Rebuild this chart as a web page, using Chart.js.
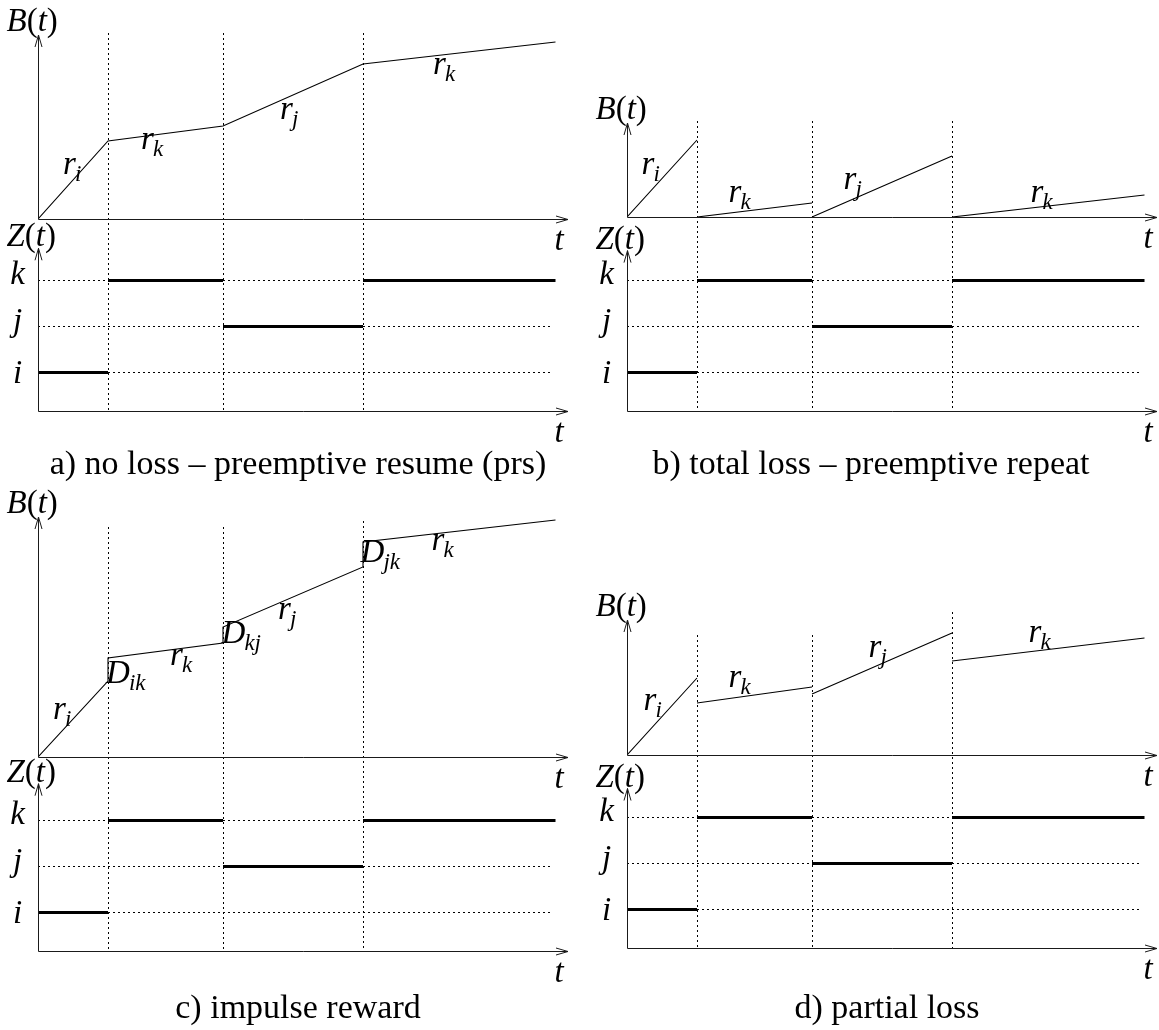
<!DOCTYPE html>
<html lang="en">
<head>
<meta charset="UTF-8">
<title>Accumulated reward under preemption</title>
<script src="https://cdn.jsdelivr.net/npm/chart.js@4"></script>
<style>
  body { margin: 0; background: #fff; }
  .figure { position: relative; width: 1159px; height: 1030px; }
  .figure canvas { position: absolute; }
</style>
</head>
<body>
<div class="figure">
  <canvas id="panelA" width="580" height="485" style="left:0;top:0"></canvas>
  <canvas id="panelB" width="579" height="485" style="left:580px;top:0"></canvas>
  <canvas id="panelC" width="580" height="545" style="left:0;top:485px"></canvas>
  <canvas id="panelD" width="579" height="545" style="left:580px;top:485px"></canvas>
</div>
<script>
// switching instants of Z(t) and the state held in between
const switchTimes = [0, 1.4, 3.7, 6.5, 10.35];
const stateSeq = ['i', 'k', 'j', 'k'];

// states on the Z(t) axis
const stateNames = ['i', 'j', 'k'];
const stateLevels = [1, 2, 3];

// B(t) at the start and at the end of every sojourn
const noLossStart = [0, 3.9, 4.65, 7.75];
const noLossEnd = [3.9, 4.65, 7.75, 8.85];
const totalLossStart = [0, 0, 0, 0];
const totalLossEnd = [3.85, 0.7, 3.05, 1.1];
const impulseStart = [0, 4.95, 6.5, 10.75];
const impulseEnd = [3.8, 5.7, 9.5, 11.85];
const partialStart = [0, 2.6, 3.05, 4.7];
const partialEnd = [3.85, 3.4, 6.1, 5.85];

// how high the dotted switching guides reach (B units)
const guideTopA = [9.3, 9.3, 9.3];
const guideTopB = [4.8, 4.8, 4.8];
const guideTopC = [11.5, 11.5, 11.8];
const guideTopD = [6.0, 6.0, 7.15];

// rate / impulse annotations: symbol, subscript, t, B
const notesA = [['r', 'i', 0.63, 2.6], ['r', 'k', 2.19, 3.85], ['r', 'j', 4.97, 5.35], ['r', 'k', 8.03, 7.6]];
const notesB = [['r', 'i', 0.42, 2.5], ['r', 'k', 2.16, 1.1], ['r', 'j', 4.46, 1.75], ['r', 'k', 8.2, 1.1]];
const notesC = [['r', 'i', 0.43, 2.25], ['D', 'ik', 1.6, 4.25], ['r', 'k', 2.77, 4.95], ['D', 'kj', 3.91, 6.25],
                ['r', 'j', 4.93, 7.25], ['D', 'jk', 6.69, 10.3], ['r', 'k', 8.0, 10.7]];
const notesD = [['r', 'i', 0.46, 2.6], ['r', 'k', 2.16, 3.75], ['r', 'j', 4.96, 5.25], ['r', 'k', 8.16, 6.0]];

const T_MAX = 10.6;      // where the time axis arrow ends
const GUIDE_END = 10.3;  // end of the dotted state levels
const Z_MIN = 1 - 38.5 / 46;

const SERIF = '"Liberation Serif", "Times New Roman", serif';
const MATH = 33, SUB = 23;

function fontFor(ch, size) {
    return (/[A-Za-z]/.test(ch) ? 'italic ' : '') + size + 'px ' + SERIF;
}
function runWidth(ctx, str, size) {
    let w = 0;
    for (const ch of str) { ctx.font = fontFor(ch, size); w += ctx.measureText(ch).width; }
    return w;
}
function drawRun(ctx, str, x, y, size) {
    for (const ch of str) {
        ctx.font = fontFor(ch, size);
        ctx.fillText(ch, x, y);
        x += ctx.measureText(ch).width;
    }
    return x;
}
// symbol with subscript, centred on the main glyph
function drawSymbol(ctx, main, sub, cx, cy) {
    const w = runWidth(ctx, main, MATH);
    const base = cy + (/[A-Z]/.test(main) ? 11 : 7);
    const end = drawRun(ctx, main, cx - w / 2, base, MATH);
    if (sub) drawRun(ctx, sub, end - 1, base + 7, SUB);
}
function strokeLine(ctx, x1, y1, x2, y2) {
    ctx.beginPath(); ctx.moveTo(x1, y1); ctx.lineTo(x2, y2); ctx.stroke();
}
// open arrow head, tip at (x, y) pointing along (dx, dy)
function arrowHead(ctx, x, y, dx, dy) {
    const len = 12, half = 3.5;
    const bx = x - dx * len, by = y - dy * len;
    ctx.beginPath();
    ctx.moveTo(bx - dy * half, by + dx * half);
    ctx.lineTo(x, y);
    ctx.lineTo(bx + dy * half, by - dx * half);
    ctx.stroke();
}

const levelBaseline = { k: 3, j: 4, i: 10 };

const figurePlugin = {
    id: 'figure',
    beforeDatasetsDraw(chart, args, o) {
        const { ctx } = chart;
        const { x: xs, yB, yZ } = chart.scales;
        ctx.save();
        ctx.strokeStyle = '#000';
        ctx.lineWidth = 1;
        ctx.setLineDash([2, 3]);
        switchTimes.slice(1, -1).forEach((t, i) => {
            const px = Math.round(xs.getPixelForValue(t)) + 0.5;
            strokeLine(ctx, px, yB.getPixelForValue(o.guideTop[i]), px, yZ.getPixelForValue(Z_MIN));
        });
        ctx.restore();
    },
    afterDraw(chart, args, o) {
        const { ctx, chartArea: area } = chart;
        const { x: xs, yB, yZ } = chart.scales;
        const x0 = Math.round(xs.getPixelForValue(0)) + 0.5;
        const bZero = Math.round(yB.getPixelForValue(0)) + 0.5;
        const zZero = Math.round(yZ.getPixelForValue(Z_MIN)) + 0.5;
        const bTip = yB.getPixelForValue(o.bArrow);
        const zTip = yZ.getPixelForValue(o.zArrow);
        const right = area.right;

        ctx.save();
        ctx.strokeStyle = '#1a1a1a';
        ctx.lineWidth = 1;
        strokeLine(ctx, x0, bZero, x0, bTip); arrowHead(ctx, x0, bTip, 0, -1);
        strokeLine(ctx, x0, bZero, right, bZero); arrowHead(ctx, right, bZero, 1, 0);
        strokeLine(ctx, x0, zZero, x0, zTip); arrowHead(ctx, x0, zTip, 0, -1);
        strokeLine(ctx, x0, zZero, right, zZero); arrowHead(ctx, right, zZero, 1, 0);

        ctx.fillStyle = '#000';
        ctx.textBaseline = 'alphabetic';
        ctx.textAlign = 'left';
        drawRun(ctx, 'B(t)', x0 - 32, bTip - 4, MATH);
        drawRun(ctx, 'Z(t)', x0 - 32, zTip - 2, MATH);
        const tw = runWidth(ctx, 't', MATH);
        drawRun(ctx, 't', right - 9 - tw / 2, bZero + 30, MATH);
        drawRun(ctx, 't', right - 9 - tw / 2, zZero + 30, MATH);

        stateNames.forEach((name, i) => {
            const w = runWidth(ctx, name, MATH);
            drawRun(ctx, name, x0 - 21 - w / 2, yZ.getPixelForValue(stateLevels[i]) + levelBaseline[name], MATH);
        });

        o.notes.forEach(([main, sub, t, b]) => {
            drawSymbol(ctx, main, sub, xs.getPixelForValue(t), yB.getPixelForValue(b));
        });

        ctx.font = '34px ' + SERIF;
        ctx.textAlign = 'center';
        ctx.fillText(o.caption, o.captionX, o.captionY);
        ctx.restore();
    }
};

function rewardPoints(starts, ends, joined) {
    const pts = [];
    stateSeq.forEach((s, n) => {
        pts.push({ x: switchTimes[n], y: starts[n] }, { x: switchTimes[n + 1], y: ends[n] });
        if (!joined) pts.push({ x: switchTimes[n + 1], y: null });
    });
    return pts;
}

function statePoints() {
    const pts = [];
    stateSeq.forEach((s, n) => {
        const lv = stateLevels[stateNames.indexOf(s)];
        pts.push({ x: switchTimes[n], y: lv }, { x: switchTimes[n + 1], y: lv }, { x: switchTimes[n + 1], y: null });
    });
    return pts;
}

const panels = [
    { id: 'panelA', caption: 'a) no loss – preemptive resume (prs)', start: noLossStart, end: noLossEnd, joined: true,
      guideTop: guideTopA, notes: notesA, pad: { left: 38, top: 33, right: 12, bottom: 74 },
      bWeight: 186, zWeight: 192, bMax: 9.3, bArrow: 9.2, zArrow: 3.7, captionX: 298, captionY: 474 },
    { id: 'panelB', caption: 'b) total loss – preemptive repeat', start: totalLossStart, end: totalLossEnd, joined: false,
      guideTop: guideTopB, notes: notesB, pad: { left: 47, top: 121, right: 2, bottom: 74 },
      bWeight: 96, zWeight: 194, bMax: 4.8, bArrow: 4.7, zArrow: 3.65, captionX: 291, captionY: 474 },
    { id: 'panelC', caption: 'c) impulse reward', start: impulseStart, end: impulseEnd, joined: true,
      guideTop: guideTopC, notes: notesC, pad: { left: 38, top: 32, right: 12, bottom: 79 },
      bWeight: 240, zWeight: 194, bMax: 12, bArrow: 12, zArrow: 3.8, captionX: 298, captionY: 533 },
    { id: 'panelD', caption: 'd) partial loss', start: partialStart, end: partialEnd, joined: false,
      guideTop: guideTopD, notes: notesD, pad: { left: 47, top: 127, right: 2, bottom: 82 },
      bWeight: 143, zWeight: 193, bMax: 7.15, bArrow: 6.75, zArrow: 3.63, captionX: 307, captionY: 533 }
];

panels.forEach(p => {
    const levelGuides = stateLevels.map(lv => ({
        data: [{ x: 0, y: lv }, { x: GUIDE_END, y: lv }],
        yAxisID: 'yZ', borderColor: '#000', borderWidth: 1, borderDash: [2, 3], order: 2
    }));
    new Chart(document.getElementById(p.id), {
        type: 'line',
        data: {
            datasets: [
                { data: rewardPoints(p.start, p.end, p.joined), yAxisID: 'yB', borderColor: '#000', borderWidth: 1.1, order: 0 },
                { data: statePoints(), yAxisID: 'yZ', borderColor: '#000', borderWidth: 3, borderCapStyle: 'butt', order: 0 },
                ...levelGuides
            ]
        },
        options: {
            responsive: false,
            animation: false,
            events: [],
            spanGaps: false,
            elements: { point: { radius: 0 }, line: { tension: 0 } },
            layout: { padding: p.pad },
            plugins: {
                legend: { display: false },
                tooltip: { enabled: false },
                figure: p
            },
            scales: {
                x: { type: 'linear', min: 0, max: T_MAX, display: false },
                yB: { type: 'linear', position: 'left', stack: 'panel', stackWeight: p.bWeight, weight: 2,
                      min: 0, max: p.bMax, display: false },
                yZ: { type: 'linear', position: 'left', stack: 'panel', stackWeight: p.zWeight, weight: 1,
                      min: Z_MIN, max: Z_MIN + p.zWeight / 46, display: false }
            }
        },
        plugins: [figurePlugin]
    });
});
</script>
</body>
</html>
